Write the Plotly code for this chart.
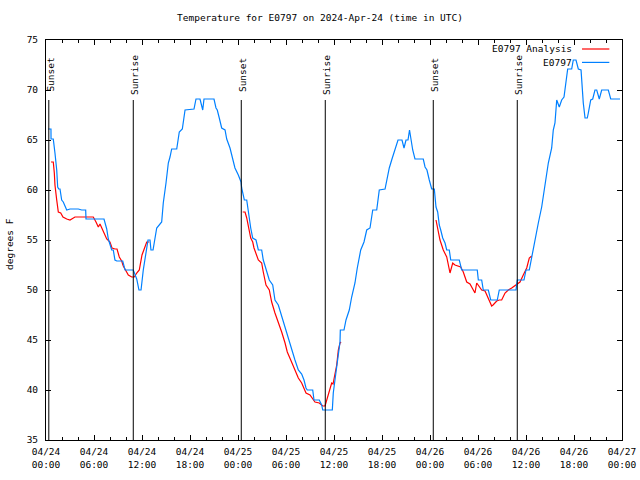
import pandas as pd
import plotly.graph_objects as go

# ---- data (hours since 2024-04-24 00:00 UTC) ----
obs_hours = [0.29, 0.62, 0.63, 0.91, 1.12, 1.34, 1.46, 1.59, 1.75, 1.84, 1.96, 2.16, 2.38, 2.59, 3.0, 4.04, 4.46, 4.96, 5.0,
             7.25, 7.59, 7.79, 8.21, 8.41, 8.62, 8.84, 9.59, 9.88, 10.91, 11.34, 11.62, 11.88, 12.16, 12.5, 12.75, 13.0,
             13.12, 13.38, 13.62, 13.84, 14.46, 14.66, 15.0, 15.29, 15.5, 15.71, 16.34, 16.66, 17.04, 17.38, 18.5, 18.75,
             19.25, 19.59, 19.75, 21.0, 21.25, 21.41, 21.66, 21.96, 22.38, 22.59, 23.0, 23.41, 23.62, 24.04, 24.38, 24.46,
             24.79, 25.09, 25.29, 25.59, 25.84, 26.25, 26.54, 26.96, 27.16, 27.5, 27.91, 28.34, 28.62, 29.04, 29.34, 29.66,
             29.96, 30.38, 30.71, 31.12, 31.54, 31.96, 32.25, 32.5, 32.66, 33.34, 33.5, 34.16, 34.46, 34.59, 35.79, 35.91,
             36.12, 36.44, 36.75, 36.79, 37.25, 37.5, 37.91, 38.21, 38.62, 38.91, 39.34, 39.75, 40.09, 40.5, 40.84, 41.34,
             41.66, 42.38, 42.66, 42.91, 43.21, 43.62, 44.0, 44.5, 44.75, 45.0, 45.25, 45.44, 45.62, 45.84, 46.12, 47.16,
             47.38, 47.62, 47.91, 48.21, 48.54, 48.75, 48.96, 49.16, 49.34, 49.59, 49.88, 50.09, 50.41, 50.59, 51.66, 51.96,
             53.91, 54.04, 54.46, 54.66, 55.29, 55.59, 56.41, 56.66, 58.75, 58.91, 59.75, 60.0, 60.41, 60.71, 61.12, 61.54,
             61.96, 62.38, 62.79, 63.21, 63.41, 63.62, 63.84, 64.16, 64.46, 64.75, 65.0, 65.21, 65.71, 65.91, 66.25, 66.54,
             66.88, 66.96, 67.16, 67.38, 67.66, 67.79, 68.09, 68.34, 68.62, 68.84, 69.16, 69.46, 70.29, 70.59, 71.75]
obs_temps = [66.1, 66.1, 65.1, 65.1, 63.7, 62.0, 60.3, 60.1, 60.1, 59.4, 59.0, 58.8, 58.3, 58.0, 58.1, 58.1, 58.0, 58.0, 57.1,
             57.1, 56.1, 55.1, 54.0, 54.0, 53.0, 52.9, 52.9, 52.0, 52.0, 51.1, 50.0, 50.0, 52.0, 54.0, 55.0, 55.0,
             54.0, 54.0, 55.1, 56.2, 56.8, 58.7, 60.7, 62.7, 63.3, 64.1, 64.1, 65.8, 66.1, 68.0, 68.1, 69.1,
             69.1, 68.0, 69.1, 69.1, 68.2, 68.0, 67.2, 66.2, 66.0, 65.1, 64.2, 62.7, 62.2, 61.5, 60.8, 60.2,
             59.0, 59.0, 57.7, 56.2, 55.2, 55.0, 54.0, 54.0, 53.0, 52.0, 51.0, 50.5, 49.0, 48.5, 47.7, 46.7,
             46.0, 45.0, 44.0, 43.0, 42.0, 41.6, 41.0, 40.2, 40.0, 40.0, 39.0, 39.0, 38.5, 38.0, 38.0, 39.7,
             41.0, 43.0, 44.8, 46.0, 46.0, 47.0, 48.0, 49.3, 50.7, 52.2, 54.0, 54.8, 56.0, 56.2, 58.0, 58.0,
             60.0, 60.1, 61.3, 62.2, 63.0, 64.0, 65.0, 65.0, 64.2, 65.0, 65.0, 66.0, 65.0, 64.0, 63.1, 63.1,
             62.3, 62.0, 61.0, 60.1, 60.1, 58.3, 57.8, 56.5, 56.0, 55.2, 54.7, 54.0, 54.0, 53.0, 53.0, 52.0,
             52.0, 51.0, 51.0, 50.0, 50.0, 49.0, 49.0, 50.0, 50.0, 51.0, 51.0, 52.0, 52.0, 53.3, 55.0, 56.7,
             58.3, 60.3, 62.7, 64.2, 66.0, 66.7, 69.0, 68.3, 69.0, 69.3, 71.0, 72.1, 72.1, 73.0, 73.0, 72.1,
             72.0, 70.7, 68.7, 67.2, 67.2, 67.7, 69.0, 69.1, 70.0, 70.0, 69.1, 70.0, 70.0, 69.1, 69.1]

ana_hours = [0.62, 0.91, 1.04, 1.12, 1.34, 1.54, 1.84, 2.12, 2.59, 3.0, 3.62, 5.91, 6.25, 6.54, 6.75, 6.96, 7.12, 7.59, 8.0,
             8.25, 8.62, 8.88, 9.16, 9.46, 9.66, 10.0, 10.29, 10.71, 11.04, 11.34, 11.66, 12.0, 12.38, 12.59, 12.91,
             18.0,
             24.59, 24.88, 25.09, 25.29, 25.59, 25.84, 26.0, 26.54, 26.96, 27.16, 27.5, 27.91, 28.21, 28.62, 29.04, 29.46,
             29.88, 30.16, 30.59, 31.0, 31.54, 31.96, 32.5, 33.0, 33.31, 33.62, 34.16, 34.59, 34.88, 35.16, 35.5, 35.71,
             35.88, 36.12, 36.34, 36.54, 36.75, 36.88,
             42.0,
             48.75, 49.04, 49.25, 49.66, 50.09, 50.5, 50.84, 51.12, 51.54, 51.84, 52.16, 52.59, 53.0, 53.41, 53.62, 53.84,
             54.25, 54.46, 54.88, 55.29, 55.71, 55.88, 56.34, 56.66, 56.96, 57.38, 57.79, 58.21, 58.79, 59.25, 59.66, 60.09,
             60.41, 60.71]
ana_temps = [62.8, 62.8, 61.7, 60.5, 59.0, 57.8, 57.7, 57.3, 57.1, 57.0, 57.3, 57.3, 56.8, 56.3, 56.6, 56.2, 55.9, 55.1, 54.8,
             54.2, 54.1, 54.1, 53.3, 52.9, 52.4, 51.9, 51.5, 51.3, 51.3, 51.7, 52.0, 53.5, 54.3, 54.8, 54.8,
             None,
             57.8, 57.8, 57.2, 56.3, 55.2, 54.8, 54.2, 53.0, 52.7, 51.8, 50.5, 50.0, 48.8, 47.7, 46.8, 45.8,
             44.7, 43.8, 43.0, 42.2, 41.2, 40.7, 39.7, 39.5, 39.2, 38.8, 38.7, 38.4, 38.4, 39.2, 40.3, 40.7,
             40.6, 41.7, 42.5, 44.0, 44.7, 44.8,
             None,
             57.0, 56.0, 55.0, 54.0, 53.3, 51.7, 52.7, 52.5, 52.4, 52.3, 51.8, 50.8, 50.6, 50.0, 49.7, 50.7,
             50.3, 50.0, 49.9, 49.2, 48.4, 48.5, 48.9, 49.0, 49.0, 49.7, 50.0, 50.2, 50.5, 50.8, 51.5, 52.2,
             53.2, 53.4]

sun_hours = [0.35, 10.91, 24.41, 34.91, 48.41, 58.91]
sun_labels = ["Sunset", "Sunrise", "Sunset", "Sunrise", "Sunset", "Sunrise"]

series_names = ["E0797 Analysis", "E0797"]
series_colors = ["#ff0000", "#0080ff"]

base = pd.Timestamp("2024-04-24 00:00")
obs_t = base + pd.to_timedelta(obs_hours, unit="h")
ana_t = base + pd.to_timedelta(ana_hours, unit="h")
sun_t = base + pd.to_timedelta(sun_hours, unit="h")

FONT = "DejaVu Sans Mono"
FS = 9.5

fig = go.Figure()
fig.add_trace(go.Scatter(x=ana_t, y=ana_temps, mode="lines", name=series_names[0],
                         line=dict(color=series_colors[0], width=1.2), connectgaps=False))
fig.add_trace(go.Scatter(x=obs_t, y=obs_temps, mode="lines", name=series_names[1],
                         line=dict(color=series_colors[1], width=1.2)))

# sunrise / sunset markers
for t, lab in zip(sun_t, sun_labels):
    fig.add_shape(type="line", xref="x", yref="paper", x0=t, x1=t, y0=0, y1=0.85,
                  line=dict(color="black", width=1))
    fig.add_annotation(x=t, xref="x", y=0.913, yref="paper", text=lab, textangle=-90,
                       showarrow=False, xanchor="center", yanchor="middle", xshift=2,
                       font=dict(family=FONT, size=FS, color="black"))

# legend (text right, sample line at right)
leg_y = [0.9775, 0.944]
for name, col, yy in zip(series_names, series_colors, leg_y):
    fig.add_annotation(x=0.9167, xref="paper", y=yy, yref="paper", text=name, showarrow=False,
                       xanchor="right", yanchor="middle", font=dict(family=FONT, size=FS, color="black"),
                       bgcolor="rgba(255,255,255,0)")
    fig.add_shape(type="line", xref="paper", yref="paper", x0=0.9306, x1=0.978, y0=yy, y1=yy,
                  line=dict(color=col, width=1.2))

fig.add_annotation(x=(9 - 46) / 576, xref="paper", y=0.49, yref="paper", text="degrees F",
                   textangle=-90, showarrow=False, xanchor="center", yanchor="middle",
                   font=dict(family=FONT, size=FS, color="black"))

fig.update_layout(
    width=640, height=480,
    margin=dict(l=46, r=18, t=40, b=40, autoexpand=False),
    paper_bgcolor="white", plot_bgcolor="white",
    showlegend=False,
    font=dict(family=FONT, size=FS, color="black"),
    title=dict(text="Temperature for E0797 on 2024-Apr-24 (time in UTC)", x=0.5, xref="container",
               y=1 - 18 / 480, yref="container", xanchor="center", yanchor="middle",
               font=dict(family=FONT, size=FS, color="black")),
    xaxis=dict(type="date", range=[base, base + pd.Timedelta(hours=72)], automargin=False,
               tick0=base, dtick=6 * 3600 * 1000, tickformat="%m/%d<br>%H:%M",
               ticks="inside", ticklen=5, tickcolor="black", showgrid=False, zeroline=False,
               showline=True, linecolor="black", linewidth=1, mirror="ticks", ticklabelstandoff=3,
               minor=dict(dtick=2 * 3600 * 1000, ticks="inside", ticklen=3, tickcolor="black", showgrid=False),
               tickfont=dict(family=FONT, size=FS, color="black")),
    yaxis=dict(range=[35, 75], dtick=5, tick0=35, ticks="inside", ticklen=5, tickcolor="black",
               automargin=False, showgrid=False, zeroline=False, showline=True, linecolor="black",
               linewidth=1, mirror="ticks", ticklabelstandoff=5,
               tickfont=dict(family=FONT, size=FS, color="black")),
)

fig.write_html("out.html", config={"displayModeBar": False},
               post_script="document.body.style.margin='0';document.body.style.padding='0';")
